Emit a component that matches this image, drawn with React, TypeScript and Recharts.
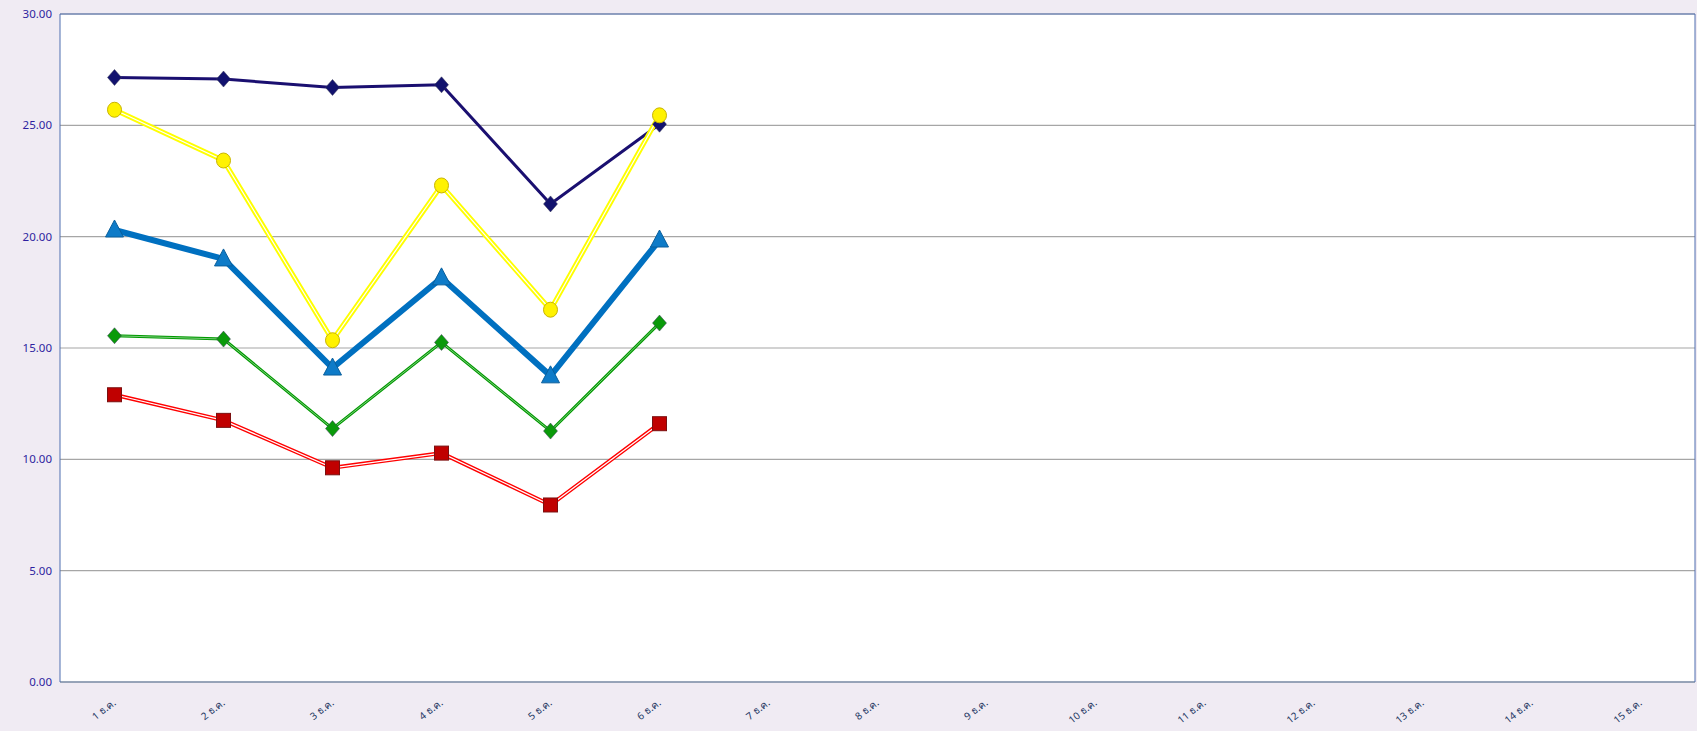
import { LineChart, Line, XAxis, YAxis, CartesianGrid, ReferenceLine } from "recharts";

const months = [
  "1 ธ.ค.", "2 ธ.ค.", "3 ธ.ค.", "4 ธ.ค.", "5 ธ.ค.", "6 ธ.ค.", "7 ธ.ค.", "8 ธ.ค.",
  "9 ธ.ค.", "10 ธ.ค.", "11 ธ.ค.", "12 ธ.ค.", "13 ธ.ค.", "14 ธ.ค.", "15 ธ.ค.",
];
const navy = [27.15, 27.08, 26.7, 26.82, 21.47, 25.05];
const yellow = [25.7, 23.42, 15.35, 22.3, 16.72, 25.45];
const blue = [20.3, 19.0, 14.1, 18.15, 13.75, 19.85];
const green = [15.55, 15.4, 11.38, 15.25, 11.27, 16.12];
const red = [12.9, 11.75, 9.62, 10.28, 7.95, 11.6];
const yTicks = [0, 5, 10, 15, 20, 25, 30];

const data = months.map((m, i) => ({
  m,
  navy: navy[i] ?? null,
  yellow: yellow[i] ?? null,
  blue: blue[i] ?? null,
  green: green[i] ?? null,
  red: red[i] ?? null,
}));

const Diamond = (fill: string, r: number) => (p: any) => {
  if (p.value == null || p.cx == null) return <g key={p.key} />;
  const { cx, cy } = p;
  return (
    <path
      key={p.key}
      d={`M${cx},${cy - r - 1} L${cx + r},${cy} L${cx},${cy + r + 1} L${cx - r},${cy} Z`}
      fill={fill}
      stroke="#3c3c5a"
      strokeOpacity={0.5}
      strokeWidth={1}
    />
  );
};

const Triangle = (p: any) => {
  if (p.value == null || p.cx == null) return <g key={p.key} />;
  const { cx, cy } = p;
  return (
    <path
      key={p.key}
      d={`M${cx},${cy - 10} L${cx + 9},${cy + 7} L${cx - 9},${cy + 7} Z`}
      fill="#0E7BC8"
      stroke="#0a5f9c"
      strokeWidth={1}
    />
  );
};

const Square = (p: any) => {
  if (p.value == null || p.cx == null) return <g key={p.key} />;
  const { cx, cy } = p;
  return (
    <rect key={p.key} x={cx - 7} y={cy - 7} width={14} height={14} fill="#C00000" stroke="#7a1010" strokeWidth={1} />
  );
};

const Circle = (p: any) => {
  if (p.value == null || p.cx == null) return <g key={p.key} />;
  return <ellipse key={p.key} cx={p.cx} cy={p.cy} rx={7} ry={7.5} fill="#FFF200" stroke="#c8b400" strokeWidth={1} />;
};

const XTick = (p: any) => {
  const { x, y, payload } = p;
  return (
    <text
      x={x + 2}
      y={y + 14}
      transform={`rotate(-38 ${x + 2} ${y + 14})`}
      textAnchor="end"
      fontSize={10}
      fill="#1F3864"
      fontFamily="Tahoma, 'Noto Sans', sans-serif"
    >
      {payload.value}
    </text>
  );
};

export default function App() {
  return (
    <div style={{ position: "fixed", left: 0, top: 0, width: 1697, height: 731, background: "#F0EBF3" }}>
      <LineChart width={1697} height={731} data={data} margin={{ top: 14, right: 0, left: 0, bottom: 0 }}>
        <CartesianGrid vertical={false} stroke="#A6A6A6" strokeWidth={1.2} fill="#ffffff" />
        <XAxis
          dataKey="m"
          height={49}
          interval={0}
          padding={{ left: 54.5, right: 54.5 }}
          tickLine={false}
          axisLine={{ stroke: "#8496B0", strokeWidth: 1.5 }}
          tick={<XTick />}
        />
        <YAxis
          width={60}
          domain={[0, 30]}
          ticks={yTicks}
          tickFormatter={(v: number) => v.toFixed(2)}
          tickLine={false}
          axisLine={{ stroke: "#4F6FB0" }}
          tick={{ fill: "#2E1FA0", fontSize: 11.5, fontFamily: "Tahoma, 'Noto Sans', sans-serif" }}
        />
        <YAxis yAxisId="r" orientation="right" width={2} domain={[0, 30]} tick={false} tickLine={false} axisLine={{ stroke: "#4F6FB0" }} />
        <ReferenceLine y={30} stroke="#4F6FB0" strokeWidth={1} />

        <Line dataKey="red" stroke="#FF0000" strokeWidth={4} dot={false} isAnimationActive={false} />
        <Line dataKey="red" stroke="#ffffff" strokeWidth={1.2} dot={false} isAnimationActive={false} />
        <Line dataKey="red" stroke="none" dot={Square} isAnimationActive={false} />

        <Line dataKey="green" stroke="#009A00" strokeWidth={3} dot={false} isAnimationActive={false} />
        <Line dataKey="green" stroke="#ffffff" strokeWidth={0.7} strokeOpacity={0.7} dot={false} isAnimationActive={false} />
        <Line dataKey="green" stroke="none" dot={Diamond("#0A9A0A", 7)} isAnimationActive={false} />

        <Line dataKey="blue" stroke="#0070C0" strokeWidth={6} dot={Triangle} isAnimationActive={false} />

        <Line dataKey="navy" stroke="#1A0F70" strokeWidth={3} dot={Diamond("#12126E", 7)} isAnimationActive={false} />

        <Line dataKey="yellow" stroke="#FFFF00" strokeWidth={5} dot={false} isAnimationActive={false} />
        <Line dataKey="yellow" stroke="#ffffff" strokeWidth={1.2} dot={false} isAnimationActive={false} />
        <Line dataKey="yellow" stroke="none" dot={Circle} isAnimationActive={false} />
      </LineChart>
    </div>
  );
}
